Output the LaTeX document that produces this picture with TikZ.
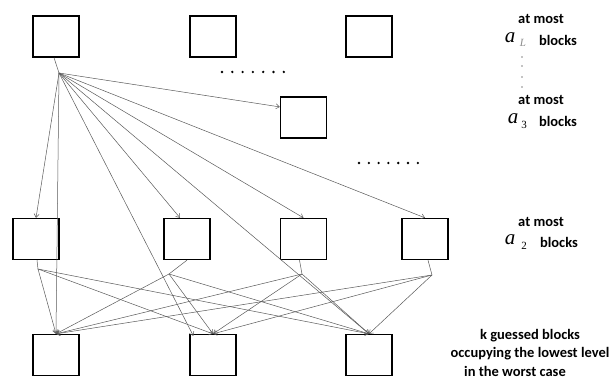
\documentclass[tikz,border=0pt]{standalone}
\usepackage{fontspec}
\newfontfamily\lab{Carlito}
\newfontfamily\serf{Liberation Serif}
\usetikzlibrary{arrows.meta,calc}
\begin{document}
\begin{tikzpicture}[x=1pt,y=-1pt,
  blk/.style={draw,line width=1.3pt,minimum width=46pt,minimum height=41pt,inner sep=0pt},
  edge/.style={draw=black!65,line width=0.5pt},
  arr/.style={edge,-{Straight Barb[length=3.5pt,width=5pt]}},
  lbl/.style={font=\lab\bfseries\fontsize{14.5}{15}\selectfont,inner sep=0pt},
  var/.style={font=\serf\itshape\fontsize{21}{21}\selectfont,inner sep=0pt},
  sub/.style={font=\serf\fontsize{11}{11}\selectfont,inner sep=0pt},
  dot/.style={fill=black}]
\useasboundingbox (0,0) rectangle (611,379);
% boxes
\node[blk] (t1) at (56,36.5) {};
\node[blk] (t2) at (213,36.5) {};
\node[blk] (t3) at (369,36.5) {};
\node[blk] (tm) at (303.5,117.5) {};
\node[blk] (m1) at (36,239) {};
\node[blk] (m2) at (187,239) {};
\node[blk] (m3) at (303.5,239) {};
\node[blk] (m4) at (425,239) {};
\node[blk] (b1) at (56,355) {};
\node[blk] (b2) at (213,355) {};
\node[blk] (b3) at (369,355) {};
% hubs
\coordinate (h1) at (59,73);
\coordinate (ha) at (38,269);
\coordinate (hb) at (169,274);
\coordinate (hc) at (302,274);
\coordinate (hd) at (432,275);
% top fan
\draw[edge] ($(t1.south)+(-2,0)$) -- (h1);
\draw[arr] (h1) -- ($(tm.north west)!0.25!(tm.south west)$);
\draw[arr] (h1) -- (m1.north);
\draw[arr] (h1) -- (b1.north);
\draw[arr] (h1) -- ($(m2.north)+(-7,0)$);
\draw[arr] (h1) -- ($(b2.north west)+(4,2)$);
\draw[arr] (h1) -- (m3.north);
\draw[arr] (h1) -- (b3.north);
\draw[arr] (h1) -- (m4.north);
% level 2 fans
\draw[edge] ($(m1.south)+(1,0)$) -- (ha);
\draw[edge] (m2.south) -- (hb);
\draw[edge] ($(m3.south)+(-4,0)$) -- (hc);
\draw[edge] ($(m4.south)+(3,0)$) -- (hd);
\foreach \h in {ha,hb,hc,hd}{
  \draw[arr] (\h) -- (b1.north);
  \draw[arr] (\h) -- (b2.north);
  \draw[arr] (\h) -- (b3.north);
}
% dots
\foreach \i in {0,...,6}{
  \fill[dot] (222+\i*10.3,72) circle (1.3pt);
  \fill[dot] (359+\i*9.8,163) circle (1.3pt);
}
\foreach \yy in {57,66,77,87}{
  \fill[dot] (522,\yy) circle (0.6pt);
}
% labels
\node[lbl] (l1) at (541,19) {at most};
\node[var] (v1) at (510,38) {a};
\node[sub,text=black!45,font=\serf\itshape\fontsize{11}{11}\selectfont] (s1) at (523,43) {L};
\node[lbl] (k1) at (558,40) {blocks};
\node[lbl] (l2) at (541,100) {at most};
\node[var] (v2) at (513,119) {a};
\node[sub] (s2) at (524,125) {3};
\node[lbl] (k2) at (558,121) {blocks};
\node[lbl] (l3) at (541,222) {at most};
\node[var] (v3) at (510,240) {a};
\node[sub] (s3) at (524,246) {2};
\node[lbl] (k3) at (559,242) {blocks};
\node[lbl] (g1) at (530,336) {k guessed blocks};
\node[lbl] (g2) at (530,354) {occupying the lowest level};
\node[lbl] (g3) at (515,371) {in the worst case};
\end{tikzpicture}
\end{document}
